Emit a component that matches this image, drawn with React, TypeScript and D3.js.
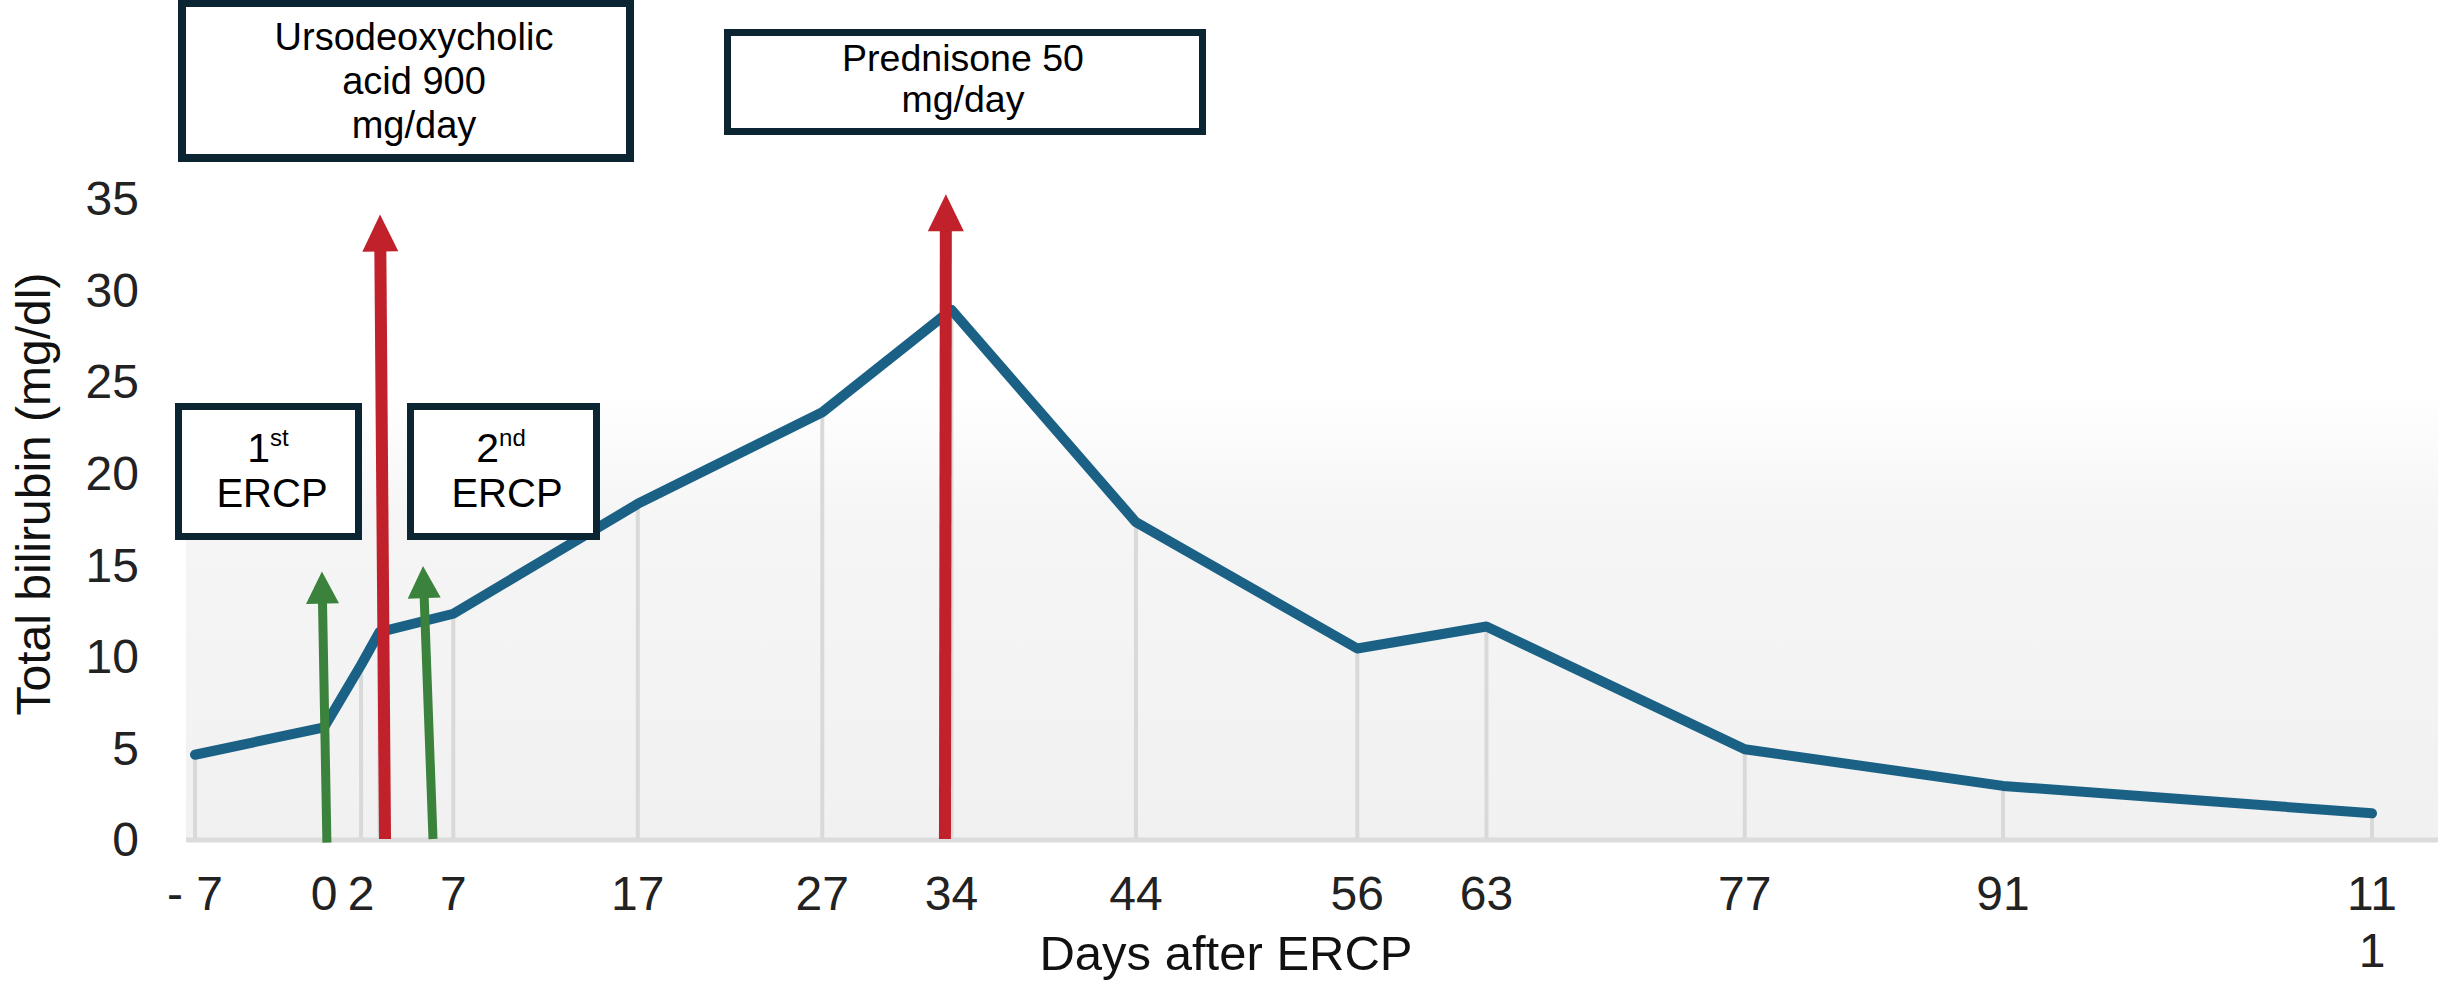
import * as d3 from 'd3';

// Days after ERCP and total bilirubin (mg/dl)
const days = [-7, 0, 2, 3, 7, 17, 27, 34, 44, 56, 63, 77, 91, 111];
const bilirubin = [4.6, 6.1, 9.5, 11.3, 12.3, 18.3, 23.3, 28.9, 17.3, 10.4, 11.6, 4.9, 2.9, 1.4];

// labelled x ticks (day 3 has a point but no label)
const tickDays = [-7, 0, 2, 7, 17, 27, 34, 44, 56, 63, 77, 91, 111];
const tickLabels = ['- 7', '0', '2', '7', '17', '27', '34', '44', '56', '63', '77', '91', '11\n1'];
const yTicks = [0, 5, 10, 15, 20, 25, 30, 35];

// treatment arrows: base day/value -> tip day/value
const arrowKinds = ['ercp', 'drug', 'ercp', 'drug'];
const arrowBaseDay = [0.15, 3.3, 5.9, 33.65];
const arrowTipDay = [-0.12, 3.03, 5.36, 33.7];
const arrowBaseVal = [-0.2, 0, 0, 0];
const arrowTipVal = [14.6, 34.1, 14.9, 35.2];

const W = 2438;
const H = 985;
const FONT = '"Liberation Sans", Arial, Helvetica, sans-serif';
const LINE_COLOR = '#1a6185';
const BOX_COLOR = '#0b2533';

export default function App() {
  const x = d3.scaleLinear().domain([-7, 111]).range([195, 2372]);
  const y = d3.scaleLinear().domain([0, 35]).range([839, 198]);

  const points = days.map((d, i) => [x(d), y(bilirubin[i])] as [number, number]);
  const line = d3.line<[number, number]>().x((p) => p[0]).y((p) => p[1])(points) || '';

  const arrows = arrowKinds.map((k, i) => {
    const bx = x(arrowBaseDay[i]);
    const by = y(arrowBaseVal[i]);
    const tx = x(arrowTipDay[i]);
    const ty = y(arrowTipVal[i]);
    const isDrug = k === 'drug';
    const headLen = isDrug ? 37 : 32;
    const headW = isDrug ? 36 : 33;
    const len = Math.hypot(tx - bx, ty - by);
    const ux = (tx - bx) / len;
    const uy = (ty - by) / len;
    const hx = tx - ux * headLen;
    const hy = ty - uy * headLen;
    const px = -uy;
    const py = ux;
    const head = [
      [tx, ty],
      [hx + (px * headW) / 2, hy + (py * headW) / 2],
      [hx - (px * headW) / 2, hy - (py * headW) / 2],
    ]
      .map((p) => p.join(','))
      .join(' ');
    return {
      color: isDrug ? '#c0212b' : '#3b823c',
      width: isDrug ? 12 : 9,
      bx,
      by,
      hx: hx + ux * 2,
      hy: hy + uy * 2,
      head,
    };
  });

  const plotLeft = 186;
  const baseY = y(0) + 1;

  return (
    <svg
      width={W}
      height={H}
      viewBox={`0 0 ${W} ${H}`}
      style={{ position: 'absolute', left: 0, top: 0, background: '#fff' }}
      fontFamily={FONT}
    >
      <defs>
        <linearGradient id="plotBg" x1="0" y1="0" x2="0" y2="1">
          <stop offset="0" stopColor="#ffffff" />
          <stop offset="0.3" stopColor="#f5f5f5" />
          <stop offset="1" stopColor="#f1f1f1" />
        </linearGradient>
      </defs>

      {/* plot background */}
      <rect x={plotLeft} y={390} width={W - plotLeft} height={baseY - 390} fill="url(#plotBg)" />

      {/* drop lines */}
      {points.map((p, i) => (
        <line key={`drop-${i}`} x1={p[0]} x2={p[0]} y1={p[1]} y2={baseY} stroke="#d9d9d9" strokeWidth={4} />
      ))}

      {/* baseline */}
      <line x1={plotLeft} x2={W} y1={baseY} y2={baseY} stroke="#dcdcdc" strokeWidth={5} />

      {/* y ticks */}
      {yTicks.map((t) => (
        <text key={`yt-${t}`} x={139} y={y(t)} dy="0.36em" textAnchor="end" fontSize={48} fill="#222">
          {t}
        </text>
      ))}

      {/* x ticks */}
      {tickDays.map((d, i) => (
        <text key={`xt-${d}`} x={x(d)} y={910} textAnchor="middle" fontSize={48} fill="#222">
          {tickLabels[i].split('\n').map((part, j) => (
            <tspan key={j} x={x(d)} dy={j === 0 ? 0 : 57}>
              {part}
            </tspan>
          ))}
        </text>
      ))}

      {/* axis titles */}
      <text x={1226} y={970} textAnchor="middle" fontSize={49} fill="#111">
        Days after ERCP
      </text>
      <text
        transform={`translate(50,494) rotate(-90)`}
        textAnchor="middle"
        fontSize={48}
        fill="#111"
      >
        Total bilirubin (mg/dl)
      </text>

      {/* data line */}
      <path d={line} fill="none" stroke={LINE_COLOR} strokeWidth={10} strokeLinejoin="round" strokeLinecap="round" />

      {/* ERCP boxes */}
      <rect x={178.5} y={406.5} width={180} height={130} fill="#fff" stroke={BOX_COLOR} strokeWidth={7} />
      <text x={268} y={462} textAnchor="middle" fontSize={41} fill="#000">
        <tspan>1</tspan>
        <tspan fontSize={24} dy={-16}>st</tspan>
      </text>
      <text x={272} y={507} textAnchor="middle" fontSize={40} fill="#000">
        ERCP
      </text>

      <rect x={410.5} y={406.5} width={186} height={130} fill="#fff" stroke={BOX_COLOR} strokeWidth={7} />
      <text x={501} y={462} textAnchor="middle" fontSize={41} fill="#000">
        <tspan>2</tspan>
        <tspan fontSize={24} dy={-16}>nd</tspan>
      </text>
      <text x={507} y={507} textAnchor="middle" fontSize={40} fill="#000">
        ERCP
      </text>

      {/* arrows */}
      {arrows.map((a, i) => (
        <g key={`arrow-${i}`}>
          <line x1={a.bx} y1={a.by} x2={a.hx} y2={a.hy} stroke={a.color} strokeWidth={a.width} />
          <polygon points={a.head} fill={a.color} />
        </g>
      ))}

      {/* drug boxes */}
      <rect x={182} y={3} width={448} height={155} fill="#fff" stroke={BOX_COLOR} strokeWidth={8} />
      <text textAnchor="middle" fontSize={38} fill="#000">
        <tspan x={414} y={50}>Ursodeoxycholic</tspan>
        <tspan x={414} y={94}>acid 900</tspan>
        <tspan x={414} y={138}>mg/day</tspan>
      </text>

      <rect x={727.5} y={32.5} width={475} height={99} fill="#fff" stroke={BOX_COLOR} strokeWidth={7} />
      <text textAnchor="middle" fontSize={37.5} fill="#000">
        <tspan x={963} y={71}>Prednisone 50</tspan>
        <tspan x={963} y={112}>mg/day</tspan>
      </text>
    </svg>
  );
}
